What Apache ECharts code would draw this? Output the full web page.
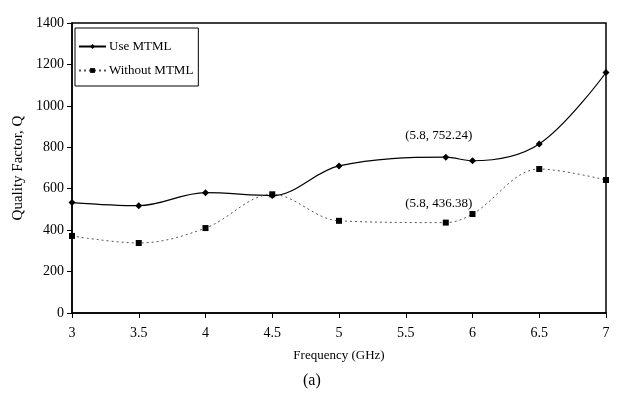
<!DOCTYPE html>
<html><head><meta charset="utf-8">
<script src="https://cdn.jsdelivr.net/npm/echarts@6/dist/echarts.min.js"></script>
<style>html,body{margin:0;padding:0;background:#fff}#c{width:617px;height:414px}</style>
</head><body><div id="c"></div>
<script>
const freq = [3, 3.5, 4, 4.5, 5, 5.8, 6, 6.5, 7];
const useMTML = [533, 518, 581, 567, 710, 752.24, 735, 816, 1161];
const withoutMTML = [372, 338, 410, 573, 445, 436.38, 478, 695, 642];
const xTicks = [3, 3.5, 4, 4.5, 5, 5.5, 6, 6.5, 7];
const yTicks = [0, 200, 400, 600, 800, 1000, 1200, 1400];
const seriesNames = ['Use MTML', 'Without MTML'];
const annotIndex = 5;
const caption = '(a)';

const F = '"Liberation Serif", "DejaVu Serif", serif';
const chart = echarts.init(document.getElementById('c'), null, {renderer: 'canvas'});
function pts(vals, dist) {
  return freq.map((f, i) => {
    const d = {value: [f, vals[i]]};
    if (i === annotIndex) {
      d.label = {show: true, position: 'top', distance: dist, offset: [-7, 0],
        formatter: '(' + f + ', ' + vals[i] + ')', color: '#000', fontFamily: F, fontSize: 13};
    }
    return d;
  });
}
chart.setOption({
  animation: false,
  textStyle: {fontFamily: F},
  grid: {left: 72, right: 11, top: 23, bottom: 101, show: true, borderColor: '#000', borderWidth: 1.5},
  legend: {
    left: 75, top: 28, orient: 'vertical', itemGap: 11,
    borderColor: '#000', borderWidth: 1, padding: [12, 5, 9, 3], backgroundColor: '#fff',
    itemWidth: 27, itemHeight: 6,
    textStyle: {fontFamily: F, fontSize: 13, color: '#000', padding: [0, 0, 0, -2]},
    data: seriesNames
  },
  graphic: [{type: 'text', left: 303, top: 373,
    style: {text: caption, font: '16px ' + F, fill: '#000'}}],
  xAxis: {
    type: 'value', min: 3, max: 7, interval: 0.5,
    name: 'Frequency (GHz)', nameLocation: 'middle', nameGap: 36,
    nameTextStyle: {fontFamily: F, fontSize: 13, color: '#000'},
    axisLine: {lineStyle: {color: '#000', width: 1.5}},
    axisTick: {show: true, length: 5, lineStyle: {color: '#000'}},
    axisLabel: {fontFamily: F, fontSize: 14, color: '#000', margin: 13,
      formatter: v => xTicks.includes(v) ? String(v) : ''},
    splitLine: {show: false}
  },
  yAxis: {
    type: 'value', min: 0, max: 1400, interval: 200,
    name: 'Quality Factor, Q', nameLocation: 'middle', nameGap: 44,
    nameTextStyle: {fontFamily: F, fontSize: 15, color: '#000'},
    axisLine: {lineStyle: {color: '#000', width: 1.5}},
    axisTick: {show: true, length: 5, lineStyle: {color: '#000'}},
    axisLabel: {fontFamily: F, fontSize: 14, color: '#000', margin: 8,
      formatter: v => yTicks.includes(v) ? String(v) : ''},
    splitLine: {show: false}
  },
  series: [
    {name: seriesNames[0], type: 'line', smooth: 0.35, data: pts(useMTML, 12),
     symbol: 'diamond', symbolSize: 7,
     lineStyle: {color: '#000', width: 1.2}, itemStyle: {color: '#000'}},
    {name: seriesNames[1], type: 'line', smooth: 0.35, data: pts(withoutMTML, 10),
     symbol: 'rect', symbolSize: 6,
     lineStyle: {color: '#555', width: 1, type: [2, 3]}, itemStyle: {color: '#000'}}
  ]
});
</script></body></html>
